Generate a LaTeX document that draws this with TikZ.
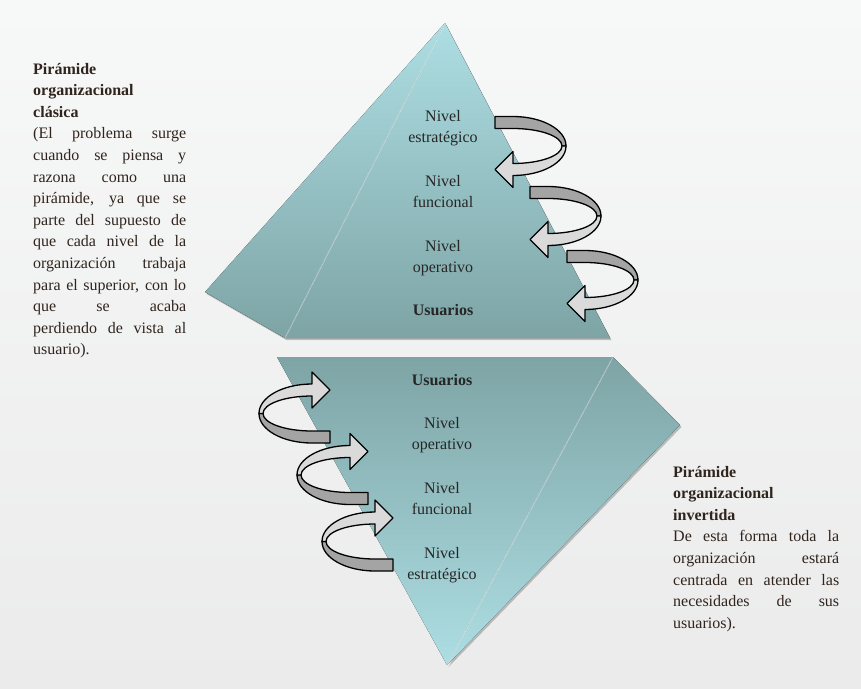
\documentclass[tikz,border=0pt]{standalone}
\usepackage{fontspec}
\setmainfont{Liberation Serif}
\usepackage{xcolor}

\definecolor{ribbondark}{HTML}{A4A4A4}
\definecolor{ribbonlight}{HTML}{DADADA}
\definecolor{pyrlight}{HTML}{ADDEE3}
\definecolor{pyrdark}{HTML}{7EA4A5}
\definecolor{notebrown}{HTML}{30241D}
\definecolor{backtop}{HTML}{F7F8F8}
\definecolor{backbottom}{HTML}{EBEBEB}

\tikzset{
  level/.style={text width=110pt, align=center, anchor=base, inner sep=0pt,
    font=\fontsize{16}{21.6}\selectfont, text=black!85},
  note/.style={text width=#1, anchor=base west, inner sep=0pt, align=left,
    font=\fontsize{16}{21.6}\selectfont, text=notebrown},
  face/.style={top color=#1, bottom color=pyrdark},
  dropshade/.style={fill=black, opacity=0.22},
  crease/.style={draw=white, opacity=0.55, line width=0.8pt},
  % curled ribbon arrow, tail on the upper left, head on the lower left
  curl/.pic={
    \draw[line width=1.3pt, fill=ribbondark, line join=round]
      (-18,-29.5) -- (0,-29.5) .. controls (29.3,-29.5) and (53,-16.3) .. (53,0)
      -- (49,0) .. controls (49,-9.7) and (27,-17.5) .. (0,-17.5) -- (-18,-17.5) -- cycle;
    \draw[line width=1.3pt, fill=ribbonlight, line join=round]
      (53,0) .. controls (53,16.3) and (29.3,29.5) .. (0,29.5)
      -- (0,41.5) -- (-18,23.5) -- (0,5.5) -- (0,17.5)
      .. controls (27,17.5) and (49,9.7) .. (49,0) -- cycle;
  }
}
% one justified line of a side note: width, words
\newcommand{\jline}[2]{\makebox[#1][s]{\spaceskip=0.25em plus 1fil\relax #2}}

\begin{document}
\begin{tikzpicture}[x=1pt, y=-1pt]
  % backdrop
  \shade[top color=backtop, bottom color=backbottom] (0,0) rectangle (861,688);
  \useasboundingbox (0,0) rectangle (861,688);

  % upright pyramid
  \coordinate (tApex) at (445,23);
  \coordinate (tSide) at (205,292);
  \coordinate (tLeft) at (285,338);
  \coordinate (tRight) at (610,338);
  \fill[dropshade] ([shift={(1.5,2)}]tSide) -- ([shift={(1.5,2)}]tLeft) -- ([shift={(1.5,2)}]tRight) -- ([shift={(1.5,2)}]tApex) -- cycle;
  \fill[face=pyrlight] (tApex) -- (tSide) -- (tLeft) -- cycle;
  \fill[face=pyrlight] (tApex) -- (tLeft) -- (tRight) -- cycle;
  \draw[crease] (tApex) -- (tLeft);

  % inverted pyramid
  \coordinate (bLeft) at (277,357);
  \coordinate (bRight) at (613,357);
  \coordinate (bSide) at (680,425);
  \coordinate (bApex) at (447,665);
  \fill[dropshade] ([shift={(1.5,2)}]bRight) -- ([shift={(1.5,2)}]bSide) -- ([shift={(1.5,2)}]bApex) -- cycle;
  \fill[top color=pyrdark, bottom color=pyrlight] (bLeft) -- (bRight) -- (bApex) -- cycle;
  \fill[top color=pyrdark, bottom color=pyrlight] (bRight) -- (bSide) -- (bApex) -- cycle;
  \draw[crease] (bRight) -- (bApex);

  % levels, classic order
  \node[level] (tStrat) at (443,121) {Nivel\\estratégico};
  \node[level] (tFunc) at (443,186) {Nivel\\funcional};
  \node[level] (tOper) at (443,251) {Nivel\\operativo};
  \node[level, font=\fontsize{16}{21.6}\selectfont\bfseries] (tUser) at (443,315) {Usuarios};

  % levels, inverted order
  \node[level, font=\fontsize{16}{21.6}\selectfont\bfseries] (bUser) at (442,385) {Usuarios};
  \node[level] (bOper) at (442,428) {Nivel\\operativo};
  \node[level] (bFunc) at (442,493) {Nivel\\funcional};
  \node[level] (bStrat) at (442,558) {Nivel\\estratégico};

  % curled arrows
  \pic at (513,146) {curl};
  \pic at (548,216) {curl};
  \pic at (585,280) {curl};
  \pic[rotate=180] at (312,413.5) {curl};
  \pic[rotate=180] at (350,475) {curl};
  \pic[rotate=180] at (375,541.5) {curl};

  % side notes
  \node[note=153pt] (classic) at (33,74) {%
    \textbf{Pirámide}\\
    \textbf{organizacional}\\
    \textbf{clásica}\\
    \jline{153pt}{(El problema surge}\\
    \jline{153pt}{cuando se piensa y}\\
    \jline{153pt}{razona como una}\\
    \jline{153pt}{pirámide, ya que se}\\
    \jline{153pt}{parte del supuesto de}\\
    \jline{153pt}{que cada nivel de la}\\
    \jline{153pt}{organización trabaja}\\
    \jline{153pt}{para el superior, con lo}\\
    \jline{153pt}{que se acaba}\\
    \jline{153pt}{perdiendo de vista al}\\
    usuario).};
  \node[note=166pt] (inverted) at (673,477) {%
    \textbf{Pirámide}\\
    \textbf{organizacional}\\
    \textbf{invertida}\\
    \jline{166pt}{De esta forma toda la}\\
    \jline{166pt}{organización estará}\\
    \jline{166pt}{centrada en atender las}\\
    \jline{166pt}{necesidades de sus}\\
    usuarios).};
\end{tikzpicture}
\end{document}
